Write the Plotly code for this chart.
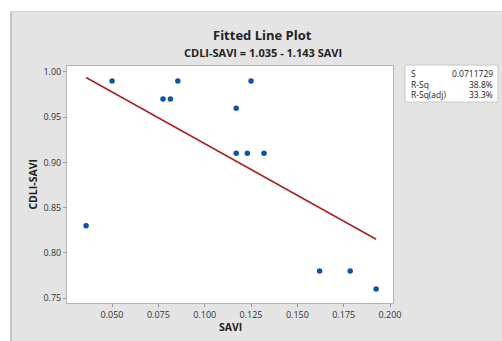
import plotly.graph_objects as go

# Data
savi = [0.036, 0.050, 0.0775, 0.0815, 0.0855, 0.117, 0.117, 0.123, 0.125, 0.132, 0.162, 0.1785, 0.1925]
cdli = [0.83, 0.99, 0.97, 0.97, 0.99, 0.96, 0.91, 0.91, 0.99, 0.91, 0.78, 0.78, 0.76]

# Regression equation from the title
intercept = 1.035
slope = -1.143

x_ticks = [0.050, 0.075, 0.100, 0.125, 0.150, 0.175, 0.200]
x_tick_labels = ["0.050", "0.075", "0.100", "0.125", "0.150", "0.175", "0.200"]
y_ticks = [0.75, 0.80, 0.85, 0.90, 0.95, 1.00]
y_tick_labels = ["0.75", "0.80", "0.85", "0.90", "0.95", "1.00"]

stat_names = ["S", "R-Sq", "R-Sq(adj)"]
stat_values = ["0.0711729", "38.8%", "33.3%"]

FONT = "Open Sans"
GRAY_BG = "#e4e4e4"

fit_x = [min(savi), max(savi)]
fit_y = [intercept + slope * v for v in fit_x]

fig = go.Figure()
fig.add_trace(go.Scatter(x=fit_x, y=fit_y, mode="lines",
                         line=dict(color="#a82424", width=1.6), hoverinfo="skip"))
fig.add_trace(go.Scatter(x=savi, y=cdli, mode="markers",
                         marker=dict(color="#0a55a8", size=5.5)))

axis_common = dict(showgrid=False, zeroline=False, showline=True, mirror=True,
                   linecolor="#b4b4b4", linewidth=1, ticks="outside", ticklen=3,
                   tickcolor="#9a9a9a", tickfont=dict(family=FONT, size=9, color="#333333"))

fig.update_layout(
    width=502, height=341,
    margin=dict(l=67, r=109, t=66, b=38),
    paper_bgcolor=GRAY_BG, plot_bgcolor="white",
    showlegend=False,
    xaxis=dict(range=[0.0257, 0.2016], tickvals=x_ticks, ticktext=x_tick_labels, **axis_common),
    yaxis=dict(range=[0.7445, 1.0066], tickvals=y_ticks, ticktext=y_tick_labels, **axis_common),
)

shapes = [
    # white strips at top and left
    dict(type="rect", xref="paper", yref="paper", x0=-0.3, x1=-0.1748, y0=-0.3, y1=1.4,
         fillcolor="white", line=dict(width=0), layer="below"),
    dict(type="rect", xref="paper", yref="paper", x0=-0.3, x1=1.5, y0=1.232, y1=1.4,
         fillcolor="white", line=dict(width=0), layer="below"),
    # frame lines
    dict(type="line", xref="paper", yref="paper", x0=-0.1718, x1=-0.1718, y0=-0.3, y1=1.232,
         line=dict(color="#c4c4c4", width=2)),
    dict(type="line", xref="paper", yref="paper", x0=-0.1748, x1=1.5, y0=1.230, y1=1.230,
         line=dict(color="#d4d4d4", width=1)),
    # stats box
    dict(type="rect", xref="paper", yref="paper", x0=1.0368, x1=1.322, y0=0.848, y1=1.004,
         fillcolor="white", line=dict(color="#c8c8c8", width=1)),
]

annotations = [
    dict(text="<b>Fitted Line Plot</b>", x=0.601, y=1.131, xref="paper", yref="paper",
         showarrow=False, xanchor="center", yanchor="middle",
         font=dict(family=FONT, size=13, color="#222222")),
    dict(text="<b>CDLI-SAVI = 1.035 - 1.143 SAVI</b>", x=0.601, y=1.059, xref="paper", yref="paper",
         showarrow=False, xanchor="center", yanchor="middle",
         font=dict(family=FONT, size=11, color="#222222")),
    dict(text="<b>SAVI</b>", x=0.5, y=-0.101, xref="paper", yref="paper",
         showarrow=False, xanchor="center", yanchor="middle",
         font=dict(family=FONT, size=10.5, color="#222222")),
    dict(text="<b>CDLI-SAVI</b>", x=-0.107, y=0.5, xref="paper", yref="paper", textangle=-90,
         showarrow=False, xanchor="center", yanchor="middle",
         font=dict(family=FONT, size=10.5, color="#222222")),
]

row_y = [0.970, 0.924, 0.878]
for name, val, yy in zip(stat_names, stat_values, row_y):
    annotations.append(dict(text=name, x=1.049, y=yy, xref="paper", yref="paper",
                            showarrow=False, xanchor="left", yanchor="middle",
                            font=dict(family=FONT, size=8.5, color="#222222")))
    annotations.append(dict(text=val, x=1.313, y=yy, xref="paper", yref="paper",
                            showarrow=False, xanchor="right", yanchor="middle",
                            font=dict(family=FONT, size=8.5, color="#222222")))

fig.update_layout(shapes=shapes, annotations=annotations)
fig.write_html("out.html", config={"displayModeBar": False},
               post_script="document.body.style.margin='0';document.body.style.overflow='hidden';")
